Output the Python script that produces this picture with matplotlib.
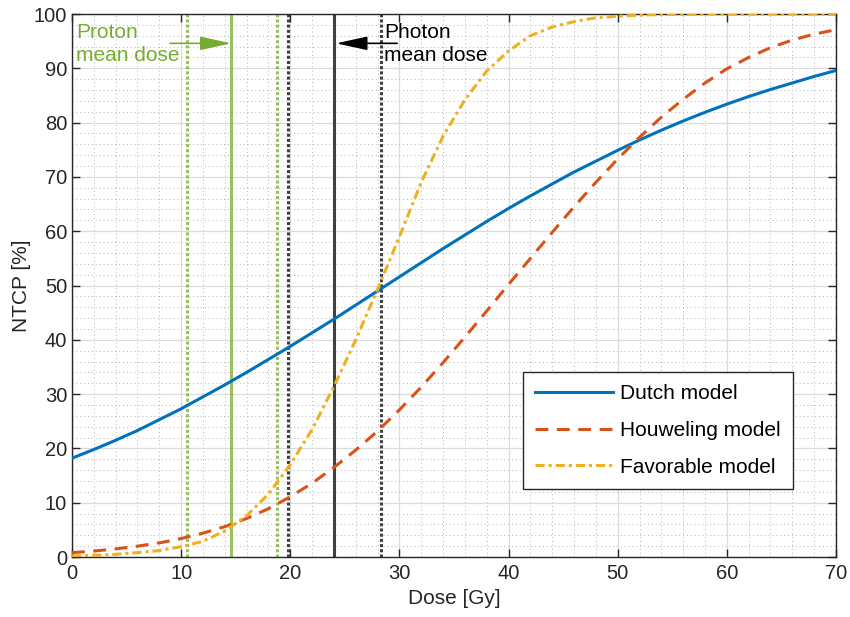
import matplotlib
matplotlib.use("Agg")
import matplotlib.pyplot as plt
from matplotlib.ticker import MultipleLocator

# --- data ---
dose = list(range(0, 72, 2))

dutch = [18.2, 19.8, 21.5, 23.3, 25.3, 27.3, 29.5, 31.7, 34.0, 36.4,
         38.8, 41.3, 43.8, 46.4, 49.0, 51.6, 54.2, 56.8, 59.3, 61.8,
         64.2, 66.5, 68.7, 70.9, 72.9, 74.9, 76.8, 78.6, 80.3, 81.9,
         83.4, 84.8, 86.1, 87.3, 88.5, 89.6]

houweling = [0.8, 1.1, 1.5, 2.0, 2.6, 3.4, 4.4, 5.6, 7.1, 8.9,
             11.1, 13.6, 16.5, 19.7, 23.2, 27.1, 31.3, 35.8, 40.5, 45.3,
             50.2, 55.0, 59.8, 64.5, 69.0, 73.3, 77.3, 81.0, 84.3, 87.3,
             89.9, 92.0, 93.8, 95.2, 96.3, 97.1]

favorable = [0.2, 0.3, 0.5, 0.8, 1.2, 1.9, 2.9, 4.8, 7.6, 11.6,
             17.0, 23.5, 31.4, 40.0, 49.3, 59.0, 69.0, 77.5, 84.2, 89.5,
             93.2, 96.0, 97.6, 98.6, 99.3, 99.6, 99.8, 99.9, 99.9, 100.0,
             100.0, 100.0, 100.0, 100.0, 100.0, 100.0]

proton_mean = 14.6
proton_range = [10.5, 18.8]
photon_mean = 24.0
photon_range = [19.8, 28.3]

blue = "#0072BD"
orange = "#D95319"
yellow = "#EDB120"
green = "#77AC30"
dark = "#404040"
ink = "#262626"

plt.rcParams["font.family"] = ["Liberation Sans", "DejaVu Sans"]

fig = plt.figure(figsize=(8.5, 6.17), dpi=100)
ax = fig.add_axes([0.0847, 0.0972, 0.8988, 0.8801])

# mean dose lines (solid = mean, dotted = range)
for x in proton_range:
    ax.axvline(x, color=green, lw=2.2, ls=(0, (1.0, 0.7)), alpha=0.75, zorder=2)
ax.axvline(proton_mean, color=green, lw=2.2, alpha=0.75, zorder=2)
for x in photon_range:
    ax.axvline(x, color=dark, lw=2.2, ls=(0, (1.0, 0.7)), zorder=2)
ax.axvline(photon_mean, color=dark, lw=2.2, zorder=2)

# NTCP curves
ax.plot(dose, dutch, color=blue, lw=2.2, label="Dutch model", zorder=3)
ax.plot(dose, houweling, color=orange, lw=2.2, ls=(0, (4.2, 2.8)),
        label="Houweling model", zorder=3)
ax.plot(dose, favorable, color=yellow, lw=2.2, ls=(0, (3.0, 1.3, 1.0, 1.3)),
        label="Favorable model", zorder=3)

# annotations
ax.text(0.35, 98.4, "Proton\nmean dose", color=green, fontsize=15,
        va="top", ha="left", linespacing=1.32, zorder=4)
ax.text(28.6, 98.4, "Photon\nmean dose", color="black", fontsize=15,
        va="top", ha="left", linespacing=1.32, zorder=4)
arrow = "-|>,head_length=1.6,head_width=0.35"
ax.annotate("", xy=(proton_mean, 94.6), xytext=(9.0, 94.6),
            arrowprops=dict(arrowstyle=arrow, color=green, lw=1.2,
                            mutation_scale=12, shrinkA=0, shrinkB=0), zorder=4)
ax.annotate("", xy=(photon_mean + 0.2, 94.6), xytext=(29.8, 94.6),
            arrowprops=dict(arrowstyle=arrow, color="black", lw=1.2,
                            mutation_scale=12, shrinkA=0, shrinkB=0), zorder=4)

ax.set_xlim(0, 70)
ax.set_ylim(0, 100)
ax.xaxis.set_major_locator(MultipleLocator(10))
ax.yaxis.set_major_locator(MultipleLocator(10))
ax.xaxis.set_minor_locator(MultipleLocator(2))
ax.yaxis.set_minor_locator(MultipleLocator(2))
ax.grid(which="major", color="#dcdcdc", lw=0.9)
ax.grid(which="minor", color="#b4b4b4", lw=0.7, ls=(0, (1, 3)))
ax.set_axisbelow(True)
ax.tick_params(which="major", direction="in", top=True, right=True,
               length=6, width=1, labelsize=14.5, colors=ink)
ax.tick_params(axis="x", which="major", pad=5)
ax.tick_params(which="minor", length=0, top=True, right=True)
for s in ax.spines.values():
    s.set_color(ink)
    s.set_linewidth(1.0)

ax.set_xlabel("Dose [Gy]", fontsize=15, color=ink, labelpad=4)
ax.set_ylabel("NTCP [%]", fontsize=15, color=ink, labelpad=2)

leg = ax.legend(loc="lower right", bbox_to_anchor=(0.9437, 0.1252),
                fontsize=15, handlelength=3.7, handletextpad=0.35,
                labelspacing=0.85, borderpad=0.6, borderaxespad=0,
                fancybox=False, framealpha=1, edgecolor=ink)
leg.get_frame().set_linewidth(1.0)

plt.savefig("out.png", dpi=100)
plt.close()
